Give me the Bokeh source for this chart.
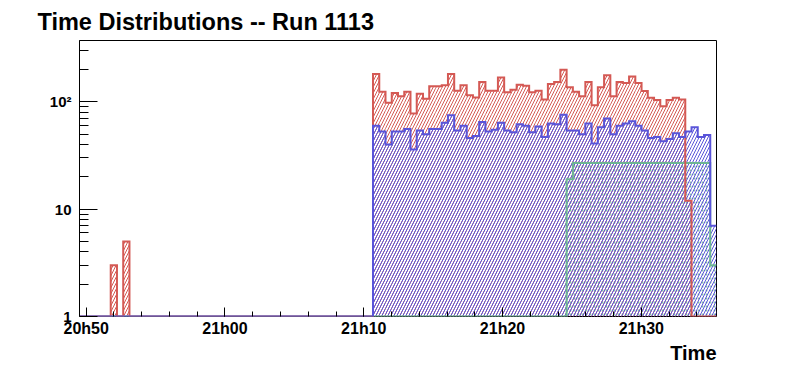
import numpy as np
from bokeh.plotting import figure
from bokeh.models import Range1d, FixedTicker, Title
from bokeh.embed import file_html
from bokeh.resources import INLINE

# ---------------- data ----------------
title_text = "Time Distributions -- Run 1113"
x_title = "Time"
hist_start_s = -29      # first bin edge, seconds after 20h50:00
bin_width_s = 27        # seconds per bin
n_bins = 102
tick_labels = ["20h50", "21h00", "21h10", "21h20", "21h30"]
tick_step_s = 600
minor_step_s = 120
y_min, y_max = 1, 373
y_tick_values = [1, 10, 100]
y_tick_labels = ["1", "10", "10\u00b2"]

red_counts = ([0, 0, 0, 0, 0, 3, 0, 5] + [0] * 39 +
              [182, 124, 98, 121, 113, 124, 78, 119, 107, 140,
               140, 143, 182, 127, 143, 115, 110, 153, 127, 127,
               169, 123, 130, 144, 141, 123, 127, 105, 147, 153,
               199, 137, 124, 113, 153, 93, 137, 177, 113, 153,
               150, 172, 150, 126, 109, 104, 91, 104, 109, 105] +
              [12, 0, 0, 0, 0])
blue_counts = ([0] * 47 +
               [60, 53, 40, 53, 53, 56, 36, 54, 50, 56,
                56, 64, 75, 54, 60, 46, 48, 65, 53, 55,
                64, 54, 52, 62, 60, 52, 59, 47, 63, 62,
                76, 54, 54, 50, 63, 41, 58, 70, 50, 60,
                63, 66, 60, 54, 46, 47, 43, 45, 51, 47,
                53, 58, 47, 49] +
               [7])
green_counts = [0] * 78 + [19] + [27] * 22 + [3]

red_color = "#d45954"
blue_color = "#5954d9"
green_color = "#85c2a3"
green_line_color = "#6cb592"

# ---------------- plot ----------------
edges = hist_start_s + bin_width_s * np.arange(n_bins + 1)

p = figure(width=796, height=372, output_backend="svg", toolbar_location=None,
           y_axis_type="log",
           x_range=Range1d(edges[0], edges[-1]), y_range=Range1d(y_min, y_max),
           min_border_left=79, min_border_right=80, min_border_top=37, min_border_bottom=56)

p.title.text = title_text
p.title.text_font = "Liberation Sans"
p.title.text_font_style = "bold"
p.title.text_font_size = "23.5px"
p.title.text_color = "black"
p.title.align = "left"
p.title.offset = -42
p.title.standoff = 12

series = [(green_counts, green_color, ".", 4, 2),
          (red_counts, red_color, "/", 6, 1),
          (blue_counts, blue_color, "/", 6, 1)]

clipped = [np.maximum(np.array(c, dtype=float), y_min) for c, *_ in series]

# hatched fills first
for vals, (_, color, pattern, scale, weight) in zip(clipped, series):
    p.quad(left=edges[:-1], right=edges[1:], bottom=y_min, top=vals,
           fill_color=None, line_color=None,
           hatch_pattern=pattern, hatch_color=color, hatch_scale=scale, hatch_weight=weight)

# histogram contours on top (step outline built from the bin edges)
line_colors = [green_line_color, red_color, blue_color]
for vals, lc in zip(clipped, line_colors):
    xs = np.repeat(edges, 2)[1:-1]
    ys = np.repeat(vals, 2)
    p.line(x=xs, y=ys, line_color=lc, line_width=2, line_join="miter")

# axes
major_x = [i * tick_step_s for i in range(len(tick_labels))]
minor_x = list(range(minor_step_s, int(edges[-1]), minor_step_s))
p.xaxis.ticker = FixedTicker(ticks=major_x, minor_ticks=minor_x)
p.xaxis.major_label_overrides = {t: lab for t, lab in zip(major_x, tick_labels)}

minor_y = [m * 10 ** d for d in range(3) for m in range(2, 10) if m * 10 ** d < y_max]
p.yaxis.ticker = FixedTicker(ticks=y_tick_values, minor_ticks=minor_y)
p.yaxis.major_label_overrides = {t: lab for t, lab in zip(y_tick_values, y_tick_labels)}

for ax in (p.xaxis, p.yaxis):
    ax.axis_line_color = "black"
    ax.major_tick_line_color = "black"
    ax.minor_tick_line_color = "black"
    ax.major_tick_out = 0
    ax.minor_tick_out = 0
    ax.major_label_text_font = "Liberation Sans"
    ax.major_label_text_font_style = "bold"
    ax.major_label_text_color = "black"

p.xaxis.axis_line_color = None
p.xaxis.major_tick_in = 9
p.xaxis.minor_tick_in = 5
p.xaxis.major_label_text_font_size = "16px"
p.xaxis.major_label_standoff = 3
p.yaxis.major_tick_in = 18
p.yaxis.minor_tick_in = 9
p.yaxis.major_label_text_font_size = "15px"
p.yaxis.major_label_standoff = 8

p.add_layout(Title(text=x_title, align="right", text_font="Liberation Sans",
                   text_font_style="bold", text_font_size="20px", text_color="black",
                   standoff=0), "below")

p.grid.visible = False
p.outline_line_color = "black"
p.outline_line_width = 1
p.background_fill_color = "white"
p.border_fill_color = "white"

open("out.html", "w").write(file_html(p, INLINE))
